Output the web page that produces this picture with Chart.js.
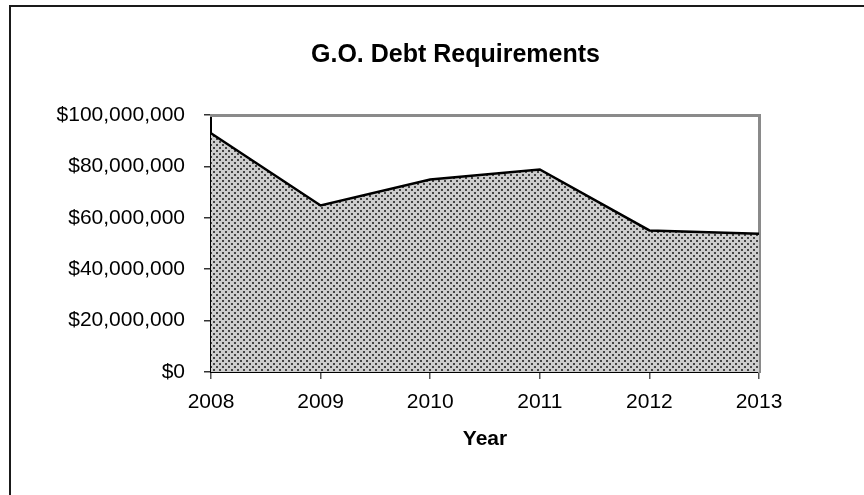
<!DOCTYPE html>
<html>
<head>
<meta charset="utf-8">
<script src="https://cdn.jsdelivr.net/npm/chart.js@4"></script>
<style>
  html, body { margin: 0; padding: 0; background: #fff; overflow: hidden; }
  #wrap { position: relative; width: 864px; height: 495px; }
  #frame { position: absolute; left: 9px; top: 5px; width: 1000px; height: 700px; border: 2px solid #1a1a1a; box-sizing: border-box; }
  canvas { position: absolute; left: 0; top: 0; }
</style>
</head>
<body>
<div id="wrap">
  <div id="frame"></div>
  <canvas id="chart" width="864" height="495"></canvas>
</div>
<script>
var years = ["2008", "2009", "2010", "2011", "2012", "2013"];
var debt = [92900000, 64800000, 74900000, 78800000, 55100000, 53800000];
var yMin = 0;
var yMax = 100000000;
var yStep = 20000000;

var FONT = "'Liberation Sans', Arial, sans-serif";

// dotted fill like the excel pattern
function dotPattern() {
  var c = document.createElement("canvas");
  c.width = 6;
  c.height = 6;
  var g = c.getContext("2d");
  g.fillStyle = "#cdcdcd";
  g.fillRect(0, 0, 6, 6);
  g.fillStyle = "#444";
  g.fillRect(0, 0, 2, 2);
  g.fillRect(3, 3, 2, 2);
  return g.createPattern(c, "repeat");
}

var ctx = document.getElementById("chart").getContext("2d");

var chart = new Chart(ctx, {
  type: "line",
  data: {
    labels: years,
    datasets: [{
      label: "G.O. Debt",
      data: debt,
      fill: "origin",
      backgroundColor: dotPattern(),
      borderColor: "#000",
      borderWidth: 2.5,
      pointRadius: 0,
      tension: 0,
      xAxisID: "x",
      yAxisID: "y"
    }]
  },
  options: {
    responsive: false,
    animation: false,
    devicePixelRatio: 1,
    layout: { padding: { left: 47, right: 0, top: 0, bottom: 0 } },
    plugins: {
      legend: { display: false },
      tooltip: { enabled: false },
      title: {
        display: true,
        text: "G.O. Debt Requirements",
        color: "#000",
        font: { family: FONT, size: 25, weight: "bold", lineHeight: 1.2 },
        padding: { top: 40, bottom: 0 }
      }
    },
    scales: {
      x: {
        type: "category",
        position: "bottom",
        offset: false,
        grid: { display: true, drawOnChartArea: false, drawTicks: true, tickLength: 7, color: "#555", lineWidth: 1.5 },
        border: { display: true, color: "#000", width: 2 },
        ticks: { color: "#000", padding: 11, maxRotation: 0, font: { family: FONT, size: 21 } },
        title: {
          display: true,
          text: "Year",
          color: "#000",
          font: { family: FONT, size: 21, weight: "bold", lineHeight: 1.2 },
          padding: { top: 12, bottom: 43 }
        },
        afterFit: function (s) { s.height = 123; }
      },
      y: {
        type: "linear",
        position: "left",
        min: yMin,
        max: yMax,
        grid: { display: true, drawOnChartArea: false, drawTicks: true, tickLength: 7, color: "#333", lineWidth: 1.5 },
        border: { display: true, color: "#000", width: 2 },
        ticks: {
          stepSize: yStep,
          color: "#000",
          padding: 19,
          font: { family: FONT, size: 21 },
          callback: function (v) { return "$" + Number(v).toLocaleString("en-US"); }
        },
        afterFit: function (s) { s.width = 164; }
      },
      xTop: {
        type: "linear",
        axis: "x",
        position: "top",
        grid: { display: false },
        ticks: { display: false },
        border: { display: true, color: "#8a8a8a", width: 3 },
        afterFit: function (s) { s.height = 45; }
      },
      yRight: {
        type: "linear",
        axis: "y",
        position: "right",
        grid: { display: false },
        ticks: { display: false },
        border: { display: true, color: "#8a8a8a", width: 3 },
        afterFit: function (s) { s.width = 105; }
      }
    }
  }
});
</script>
</body>
</html>
